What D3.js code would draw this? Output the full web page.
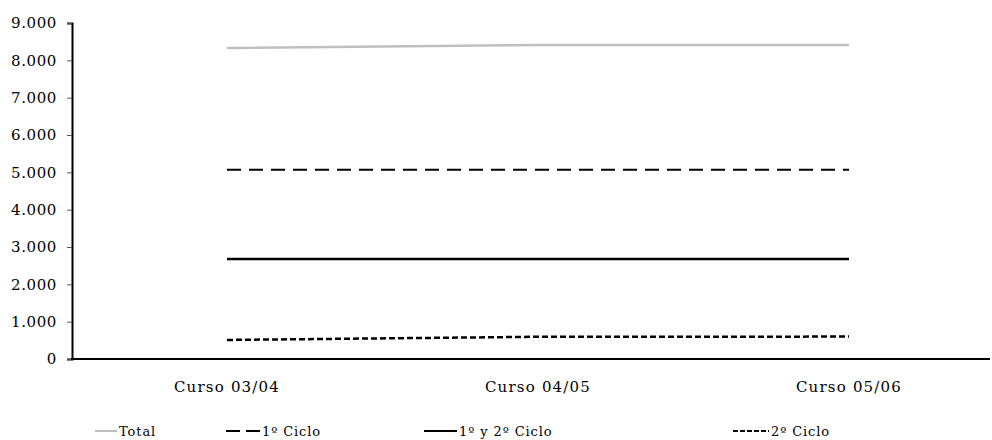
<!DOCTYPE html>
<html>
<head>
<meta charset="utf-8">
<script src="https://cdn.jsdelivr.net/npm/d3@7"></script>
<style>
  body { margin: 0; background: #fff; }
  text { font-family: "DejaVu Serif", serif; fill: #000; }
</style>
</head>
<body>
<div class="chart"></div>
<script>
// data
var cursos = ["Curso 03/04", "Curso 04/05", "Curso 05/06"];
var total = [8330, 8410, 8410];
var ciclo1 = [5070, 5070, 5070];
var ciclo12 = [2680, 2680, 2680];
var ciclo2 = [510, 595, 600];
var series_names = ["Total", "1\u00ba Ciclo", "1\u00ba y 2\u00ba Ciclo", "2\u00ba Ciclo"];
var y_ticks = [0, 1000, 2000, 3000, 4000, 5000, 6000, 7000, 8000, 9000];

var width = 992, height = 440;
var margin = {left: 72, right: 2, top: 23, bottom: 81};

var svg = d3.select(".chart").append("svg")
            .attr("width", width)
            .attr("height", height);

var x = d3.scalePoint()
          .domain(cursos)
          .range([227, 849]);
var y = d3.scaleLinear()
          .domain([0, 9000])
          .range([height - margin.bottom, margin.top]);

var fmt = function(d){ return d3.format(",")(d).replace(/,/g, "."); };

// y axis
var yAxis = svg.append("g")
               .attr("transform", "translate(" + margin.left + ",0)")
               .call(d3.axisLeft(y).tickValues(y_ticks).tickFormat(fmt).tickSize(5).tickPadding(10));
yAxis.select(".domain").attr("stroke", "#000").attr("stroke-width", 2);
yAxis.selectAll(".tick line").attr("stroke", "#555");
yAxis.selectAll("text")
     .attr("font-size", 15)
     .style("letter-spacing", "0.6px")
     .attr("font-family", "DejaVu Serif");

// x axis
var xAxis = svg.append("g")
               .attr("transform", "translate(0," + y(0) + ")");
xAxis.append("line")
     .attr("x1", margin.left - 1).attr("x2", width - margin.right)
     .attr("stroke", "#000").attr("stroke-width", 2);
xAxis.selectAll("text.xl")
     .data(cursos)
     .enter().append("text")
     .attr("class", "xl")
     .attr("x", function(d){ return x(d); })
     .attr("y", 33)
     .attr("text-anchor", "middle")
     .attr("font-size", 15)
     .style("letter-spacing", "1.2px")
     .text(function(d){ return d; });

// series
var styles = [
  {stroke: "#bfbfbf", width: 2.5, dash: null},
  {stroke: "#000", width: 2, dash: "14,8"},
  {stroke: "#000", width: 2.5, dash: null},
  {stroke: "#000", width: 2.5, dash: "6,3"}
];
var all_series = [total, ciclo1, ciclo12, ciclo2];

var line = d3.line()
             .x(function(d, i){ return x(cursos[i]); })
             .y(function(d){ return y(d); });

svg.append("g").selectAll("path")
   .data(all_series)
   .enter().append("path")
   .attr("d", line)
   .attr("fill", "none")
   .attr("stroke", function(d, i){ return styles[i].stroke; })
   .attr("stroke-width", function(d, i){ return styles[i].width; })
   .attr("stroke-dasharray", function(d, i){ return styles[i].dash; });

// legend
var legend_x = [95, 226, 424, 733];
var legend_len = [22, 34, 33, 36];
var legend = svg.selectAll("g.legend")
                .data(series_names)
                .enter().append("g")
                .attr("class", "legend")
                .attr("transform", function(d, i){ return "translate(" + legend_x[i] + ",431)"; });
legend.append("line")
      .attr("x1", 0)
      .attr("x2", function(d, i){ return legend_len[i]; })
      .attr("stroke", function(d, i){ return styles[i].stroke; })
      .attr("stroke-width", function(d, i){ return i == 1 ? 2 : styles[i].width - 0.5; })
      .attr("stroke-dasharray", function(d, i){ return i == 1 ? "14,6" : (i == 3 ? "5,2" : null); });
legend.append("text")
      .attr("x", function(d, i){ return legend_len[i] + 2; })
      .attr("y", 5)
      .attr("font-size", 13)
      .style("letter-spacing", "0.9px")
      .text(function(d){ return d; });
</script>
</body>
</html>
